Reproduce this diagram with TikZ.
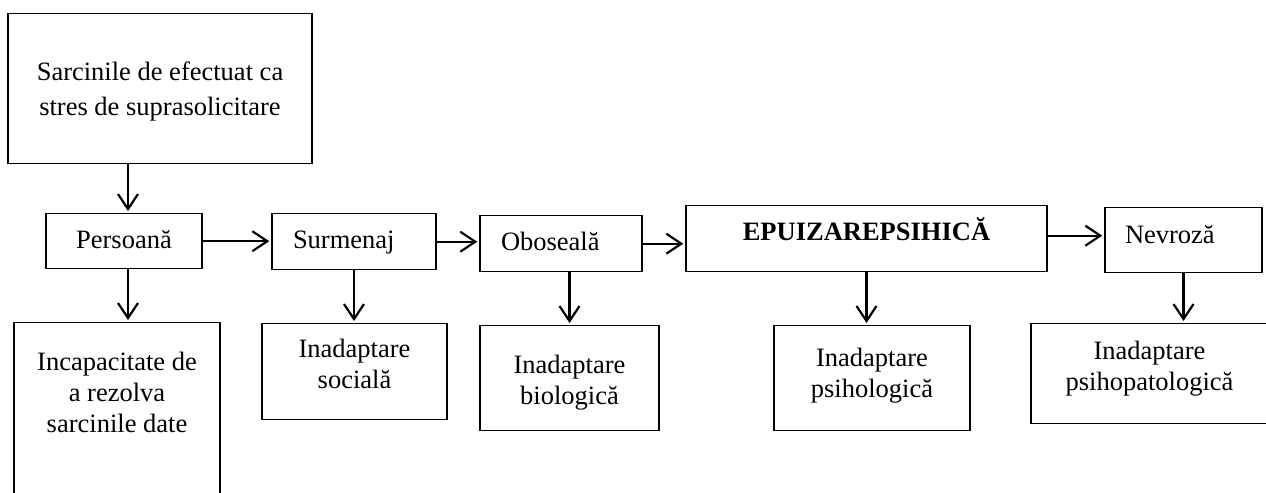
\documentclass[tikz,border=0pt]{standalone}
\usepackage{fontspec}
\setmainfont{Liberation Serif}
\usetikzlibrary{arrows.meta,positioning}

\tikzset{
  box/.style={draw, line width=0.7pt, inner sep=0pt, align=center, anchor=north,
    font=\fontsize{13.25}{15.5}\selectfont},
  pad/.style 2 args={text height=#1, text depth=#2},
  lbox/.style={box, align=left, inner xsep=10.5pt, text width=#1},
  arr/.style={-{Straight Barb[length=7.5pt,width=10pt]}, line width=1.1pt, shorten >=1pt},
}

\begin{document}
\begin{tikzpicture}[x=0.5pt, y=-0.5pt]
  \useasboundingbox (0,0) rectangle (1266,493);
  % top row
  \node[box, minimum width=152pt, pad={51pt}{24pt}, font=\fontsize{13.25}{17.5}\selectfont] (sarc) at (160,13) {Sarcinile de efectuat ca\\stres de suprasolicitare};
  \node[box, minimum width=78pt, pad={17.5pt}{10pt}] (pers) at (124,213) {Persoană};
  \node[lbox=61pt, pad={17.5pt}{10.5pt}] (surm) at (354,213) {Surmenaj};
  \node[lbox=60pt, pad={17.5pt}{10.5pt}] (obos) at (561,215) {Oboseală};
  \node[box, minimum width=180.5pt, pad={17.5pt}{15.5pt}, font=\fontsize{13.25}{15.5}\selectfont\bfseries] (epuiz) at (866.5,205) {EPUIZAREPSIHICĂ};
  \node[lbox=58.5pt, inner xsep=10pt, pad={18pt}{14.5pt}] (nevr) at (1183.5,207) {Nevroză};
  % bottom row
  \node[box, minimum width=103pt, pad={55pt}{49pt}] (inc) at (117,322) {Incapacitate de\\a rezolva\\sarcinile date};
  \node[box, minimum width=92.5pt, pad={32.5pt}{15.5pt}] (soc) at (354.5,323) {Inadaptare\\socială};
  \node[box, minimum width=89.5pt, pad={39.5pt}{13pt}] (bio) at (569.5,325) {Inadaptare\\biologică};
  \node[box, minimum width=98pt, pad={36pt}{16.5pt}] (psl) at (872,325) {Inadaptare\\psihologică};
  \node[box, minimum width=118.5pt, pad={33.5pt}{16.5pt}] (psp) at (1149.5,323) {Inadaptare\\psihopatologică};

  \draw[arr] ([xshift=2pt]pers.north |- sarc.south) -- ([xshift=2pt]pers.north);
  \draw[arr] (pers.east) -- (pers.east -| surm.west);
  \draw[arr] (surm.east) -- (surm.east -| obos.west);
  \draw[arr] (obos.east) -- (obos.east -| epuiz.west);
  \draw[arr] ([yshift=1.5pt]epuiz.east) -- ([yshift=1.5pt]epuiz.east -| nevr.west);
  \draw[arr] ([xshift=2pt]pers.south) -- ([xshift=2pt]pers.south |- inc.north);
  \draw[arr] (surm.south) -- (surm.south |- soc.north);
  \draw[arr] (obos.south -| bio.north) -- (bio.north);
  \draw[arr] (epuiz.south) -- (epuiz.south |- psl.north);
  \draw[arr] (nevr.south) -- (nevr.south |- psp.north);
\end{tikzpicture}
\end{document}
